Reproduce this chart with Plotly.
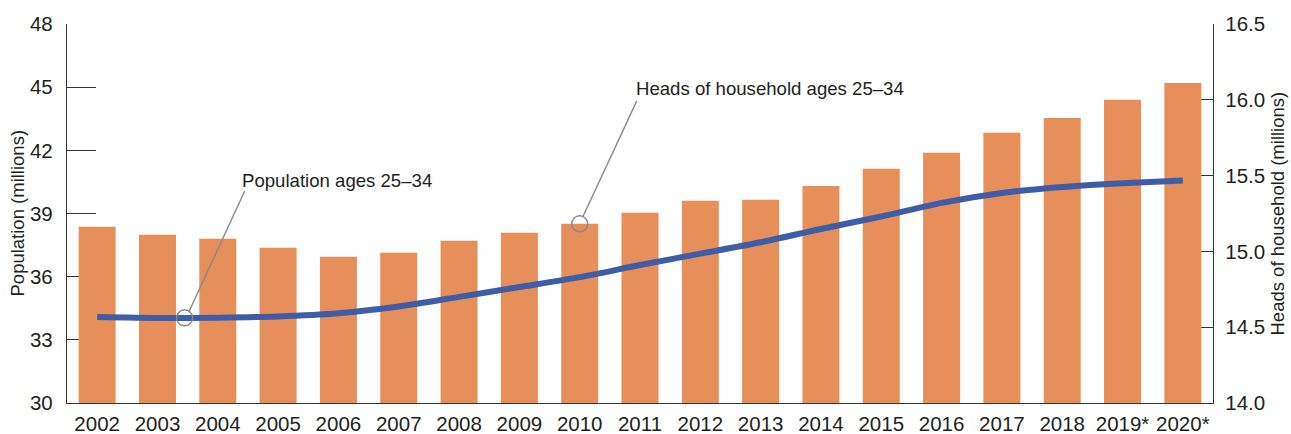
import plotly.graph_objects as go

years = ["2002", "2003", "2004", "2005", "2006", "2007", "2008", "2009", "2010",
         "2011", "2012", "2013", "2014", "2015", "2016", "2017", "2018", "2019*", "2020*"]
population = [38.37, 37.99, 37.80, 37.37, 36.94, 37.13, 37.70, 38.08, 38.51,
              39.03, 39.60, 39.65, 40.31, 41.12, 41.88, 42.83, 43.54, 44.40, 45.20]
households = [14.567, 14.561, 14.563, 14.571, 14.592, 14.636, 14.700, 14.765, 14.830,
              14.910, 14.985, 15.060, 15.148, 15.230, 15.320, 15.385, 15.425, 15.450, 15.468]

left_ticks = [30, 33, 36, 39, 42, 45, 48]
right_ticks = [14.0, 14.5, 15.0, 15.5, 16.0, 16.5]

BAR = "#E68F5A"
LINE = "#3F5DA7"
TEXT = "#231F20"
AX = "#333333"
LEADER = "#8A8A8A"
NARROW = "Liberation Sans Narrow, Arial Narrow, sans-serif"
SANS = "Liberation Sans, Arial, Helvetica, sans-serif"

fig = go.Figure()
fig.add_trace(go.Bar(x=years, y=population, marker=dict(color=BAR, line=dict(width=0)),
                     yaxis="y", showlegend=False, hoverinfo="skip"))
fig.add_trace(go.Scatter(x=years, y=households, mode="lines",
                         line=dict(color=LINE, width=6, shape="spline", smoothing=0.7),
                         yaxis="y2", showlegend=False, hoverinfo="skip"))

# annotation anchors (data space)
pop_anchor_x = 1.45
pop_anchor_y = 14.562
hh_anchor_x = 8
hh_anchor_y = population[8]

shapes = []
for ax_, ay_, yref in [(pop_anchor_x, pop_anchor_y, "y2"), (hh_anchor_x, hh_anchor_y, "y")]:
    shapes.append(dict(type="circle", xref="x", yref=yref, xsizemode="pixel", ysizemode="pixel",
                       xanchor=ax_, yanchor=ay_, x0=-8, x1=8, y0=-8, y1=8,
                       line=dict(color=LEADER, width=1.4), fillcolor="rgba(0,0,0,0)"))
shapes.append(dict(type="line", xref="x", yref="y2", xsizemode="pixel", ysizemode="pixel",
                   xanchor=pop_anchor_x, yanchor=pop_anchor_y, x0=4.5, y0=6.5, x1=60, y1=126.5,
                   line=dict(color=LEADER, width=1.4)))
shapes.append(dict(type="line", xref="x", yref="y", xsizemode="pixel", ysizemode="pixel",
                   xanchor=hh_anchor_x, yanchor=hh_anchor_y, x0=3.3, y0=7.3, x1=57, y1=122.7,
                   line=dict(color=LEADER, width=1.4)))

annotations = [
    dict(text="Population ages 25\u201334", xref="x", yref="y2", x=pop_anchor_x, y=pop_anchor_y,
         xanchor="left", yanchor="middle", xshift=55, yshift=137.5, showarrow=False,
         font=dict(family=SANS, size=18.6, color=TEXT)),
    dict(text="Heads of household ages 25\u201334", xref="x", yref="y", x=hh_anchor_x, y=hh_anchor_y,
         xanchor="left", yanchor="middle", xshift=54, yshift=135, showarrow=False,
         font=dict(family=SANS, size=18.6, color=TEXT)),
    # axis titles
    dict(text="Population (millions)", xref="paper", yref="paper", x=0, y=0.5,
         xanchor="center", yanchor="middle", xshift=-50, textangle=-90, showarrow=False,
         font=dict(family=SANS, size=18.5, color=TEXT)),
    dict(text="Heads of household (millions)", xref="paper", yref="paper", x=1, y=0.5,
         xanchor="center", yanchor="middle", xshift=64, textangle=-90, showarrow=False,
         font=dict(family=SANS, size=18.5, color=TEXT)),
]

fig.update_layout(
    width=1291, height=434,
    margin=dict(l=67, r=78, t=24, b=31, pad=0, autoexpand=False),
    paper_bgcolor="white", plot_bgcolor="white",
    bargap=0.387,
    shapes=shapes, annotations=annotations,
    xaxis=dict(type="category", showline=True, linecolor=AX, linewidth=1.4, ticks="",
               showgrid=False, zeroline=False, automargin=False,
               tickfont=dict(family=NARROW, size=20.5, color=TEXT),
               ticklabelstandoff=2, layer="below traces"),
    yaxis=dict(range=[30, 48], tickvals=left_ticks, ticks="inside", ticklen=29, tickwidth=1.4,
               tickcolor=AX, showline=True, linecolor=AX, linewidth=1.4, showgrid=False,
               zeroline=False, layer="below traces", automargin=False, ticklabelstandoff=9,
               tickfont=dict(family=NARROW, size=20.5, color=TEXT)),
    yaxis2=dict(range=[14, 16.5], tickvals=right_ticks, tickformat=".1f", overlaying="y",
                side="right", ticks="inside", ticklen=29, tickwidth=1.4, tickcolor=AX,
                showline=True, linecolor=AX, linewidth=1.4, showgrid=False, zeroline=False,
                layer="below traces", automargin=False, ticklabelstandoff=7,
                tickfont=dict(family=NARROW, size=20.5, color=TEXT)),
)

fig.write_html("out.html", config={"displayModeBar": False},
               post_script="document.body.style.margin='0';document.body.style.overflow='hidden';")
